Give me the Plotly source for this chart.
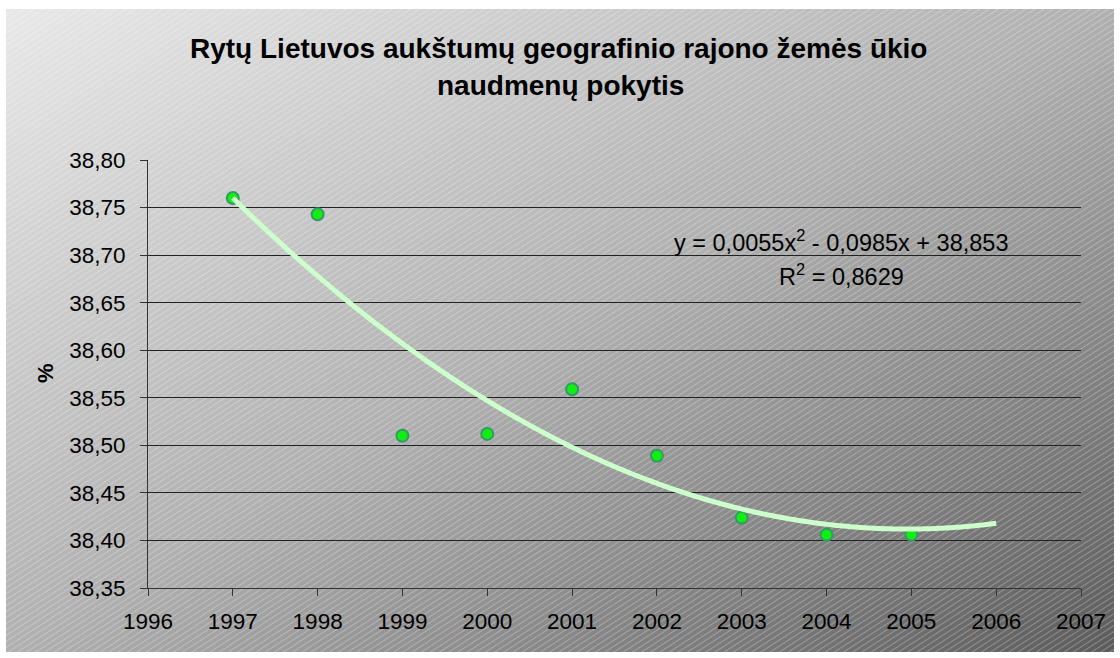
import base64
import numpy as np
import plotly.graph_objects as go

# ---- data ----
years = [1997, 1998, 1999, 2000, 2001, 2002, 2003, 2004, 2005]
values = [38.760, 38.743, 38.510, 38.512, 38.559, 38.489, 38.424, 38.406, 38.406]
# trendline coefficients as printed on the chart (x = 1 for 1997)
trend_coefs = [0.0055, -0.0985, 38.853]
trend_r2 = 0.8629
trend_end_year = 2006
title_lines = ["Rytų Lietuvos aukštumų geografinio rajono žemės ūkio", "naudmenų pokytis"]
y_title = "%"

W, H = 1120, 658
L, R, T, B = 148, 1081, 160, 588  # plot area in px
PW, PH = R - L, B - T


def px_x(px):
    return (px - L) / PW


def px_y(py):
    return 1 - (py - T) / PH


# ---- background (gradient + hatching) as an SVG image ----
bx0, by0, bx1, by1 = 6, 9, 1114, 652
bw, bh = bx1 - bx0, by1 - by0
svg = f'''<svg xmlns="http://www.w3.org/2000/svg" width="{bw}" height="{bh}" viewBox="0 0 {bw} {bh}" preserveAspectRatio="none">
<defs>
<linearGradient id="g" x1="0" y1="0" x2="1" y2="1">
<stop offset="0" stop-color="#e8e8e8"/>
<stop offset="0.5" stop-color="#b0b0b0"/>
<stop offset="1" stop-color="#5c5c5c"/>
</linearGradient>
<pattern id="h" width="8" height="5" patternUnits="userSpaceOnUse" patternTransform="rotate(-33)">
<line x1="0" y1="0.5" x2="8" y2="0.5" stroke="#ffffff" stroke-width="0.7" stroke-opacity="0.4"/>
</pattern>
</defs>
<rect x="0" y="0" width="{bw}" height="{bh}" fill="url(#g)"/>
<rect x="0" y="0" width="{bw}" height="{bh}" fill="url(#h)"/>
</svg>'''
svg_uri = "data:image/svg+xml;base64," + base64.b64encode(svg.encode()).decode()

# ---- trendline from printed coefficients ----
t_idx = np.linspace(1, trend_end_year - years[0] + 1, 200)
trend_y = np.polyval(trend_coefs, t_idx)
trend_x = t_idx + years[0] - 1

fig = go.Figure()
fig.add_trace(go.Scatter(
    x=years, y=values, mode="markers",
    marker=dict(size=12, color="#11ee11", line=dict(color="#339966", width=2)),
    showlegend=False, hoverinfo="x+y",
))
fig.add_trace(go.Scatter(
    x=trend_x, y=trend_y, mode="lines",
    line=dict(color="#ccffcc", width=5, shape="spline"),
    showlegend=False, hoverinfo="skip",
))

font_family = "Liberation Sans, Arial, sans-serif"

a, b, c = trend_coefs
eq_text = (f"y = {a:.4f}x<sup>2</sup> - {abs(b):.4f}x + {c:.3f}").replace(".", ",")
r2_text = f"R<sup>2</sup> = {trend_r2:.4f}".replace(".", ",")

annotations = [
    dict(x=px_x(558), y=px_y(49), xref="paper", yref="paper", text=f"<b>{title_lines[0]}</b>",
         showarrow=False, xanchor="center", yanchor="middle",
         font=dict(family=font_family, size=28, color="black")),
    dict(x=px_x(560), y=px_y(86), xref="paper", yref="paper", text=f"<b>{title_lines[1]}</b>",
         showarrow=False, xanchor="center", yanchor="middle",
         font=dict(family=font_family, size=28, color="black")),
    dict(x=px_x(841), y=px_y(241), xref="paper", yref="paper", text=eq_text,
         showarrow=False, xanchor="center", yanchor="middle",
         font=dict(family=font_family, size=23.5, color="black")),
    dict(x=px_x(841), y=px_y(275), xref="paper", yref="paper", text=r2_text,
         showarrow=False, xanchor="center", yanchor="middle",
         font=dict(family=font_family, size=23.5, color="black")),
    dict(x=px_x(45), y=px_y(373), xref="paper", yref="paper", text=f"<b>{y_title}</b>",
         showarrow=False, xanchor="center", yanchor="middle", textangle=-90,
         font=dict(family=font_family, size=22, color="black")),
]

fig.update_layout(
    width=W, height=H,
    margin=dict(l=L, r=W - R, t=T, b=H - B, pad=0),
    paper_bgcolor="white", plot_bgcolor="rgba(0,0,0,0)",
    separators=",.",
    font=dict(family=font_family, size=22, color="black"),
    images=[dict(source=svg_uri, xref="paper", yref="paper",
                 x=px_x(bx0), y=px_y(by0), sizex=bw / PW, sizey=bh / PH,
                 xanchor="left", yanchor="top", sizing="stretch", layer="below")],
    annotations=annotations,
    xaxis=dict(range=[1996, 2007], dtick=1, tick0=1996, showgrid=False, zeroline=False,
               ticks="outside", ticklen=7, tickcolor="#333333", tickwidth=1,
               showline=True, linecolor="#333333", linewidth=1,
               tickfont=dict(size=22.5), ticklabelstandoff=6),
    yaxis=dict(range=[38.35, 38.80], dtick=0.05, tick0=38.35, tickformat=".2f",
               showgrid=True, gridcolor="#222222", gridwidth=1, zeroline=False,
               ticks="outside", ticklen=7, tickcolor="#333333", tickwidth=1,
               showline=True, linecolor="#333333", linewidth=1,
               tickfont=dict(size=22.5), ticklabelstandoff=10),
)

fig.write_html("out.html", config={"displayModeBar": False},
               post_script="document.body.style.margin='0';")
